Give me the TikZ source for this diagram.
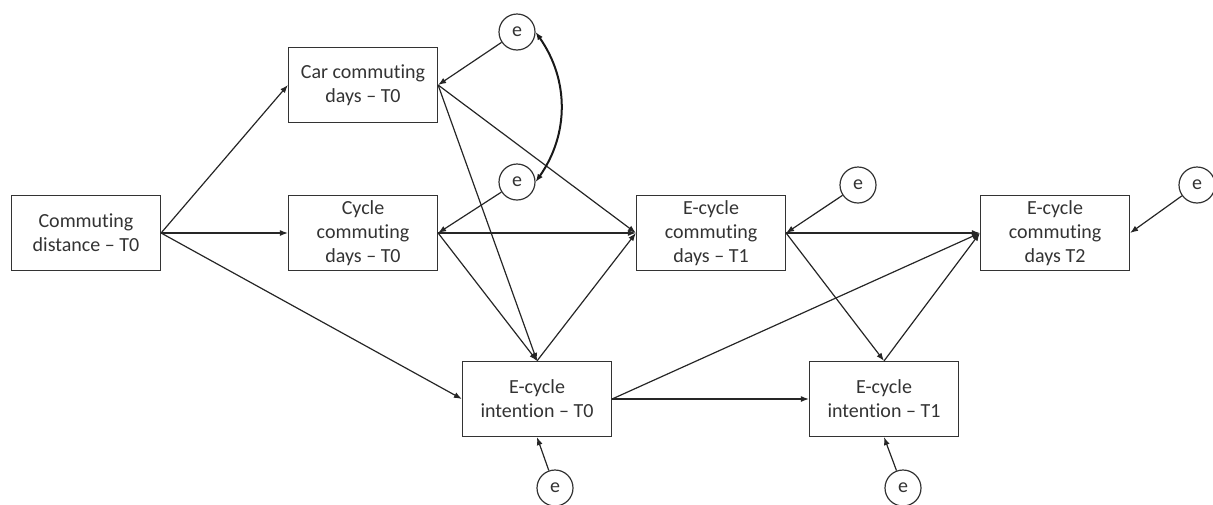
\documentclass[tikz,border=0pt]{standalone}
\usepackage{fontspec}
\setmainfont[Ligatures=NoCommon]{Carlito}
\usepackage{tikz}
\usetikzlibrary{arrows.meta}

\tikzset{
  var/.style={draw=black!80, line width=1.2pt, rectangle, align=center,
    minimum width=149pt, minimum height=75pt, inner sep=1pt,
    font=\fontsize{20}{24}\selectfont, text=black!80},
  err/.style={draw=black!80, line width=1.2pt, circle, minimum size=36pt,
    inner sep=0pt, font=\fontsize{20}{24}\selectfont, text=black!80},
  path/.style={draw=black!85, line width=1.2pt, -{Latex[length=8pt,width=6pt]}},
}

\begin{document}
\begin{tikzpicture}[x=1pt, y=-1pt]
        \useasboundingbox (0, 0) rectangle (1213, 504);

        % observed variables
        \node[var] (dist) at (86, 233) {Commuting\\distance -- T0};
        \node[var] (car) at (363, 85) {Car commuting\\days -- T0};
        \node[var] (cyc) at (363, 233) {Cycle\\commuting\\days -- T0};
        \node[var] (ecT1) at (711, 233) {E-cycle\\commuting\\days -- T1};
        \node[var] (ecT2) at (1055, 233) {E-cycle\\commuting\\days T2};
        \node[var] (intT0) at (537, 399) {E-cycle\\intention -- T0};
        \node[var] (intT1) at (884, 399) {E-cycle\\intention -- T1};

        % error terms
        \node[err] (eCar) at (517, 32) {e};
        \node[err] (eCyc) at (517, 182) {e};
        \node[err] (eT1) at (858, 185) {e};
        \node[err] (eT2) at (1197, 185) {e};
        \node[err] (eIntA) at (555, 488) {e};
        \node[err] (eIntB) at (903, 488) {e};

        % paths
        \draw[path] (dist.east) -- (car.west);
        \draw[path] (dist.east) -- (cyc.west);
        \draw[path] (dist.east) -- (intT0.west);

        \draw[path] (car.east) -- (ecT1.west);
        \draw[path] (car.east) -- (intT0.north);
        \draw[path] (cyc.east) -- (ecT1.west);
        \draw[path] (cyc.east) -- (intT0.north);
        \draw[path] (intT0.north) -- (ecT1.west);

        \draw[path] (ecT1.east) -- (ecT2.west);
        \draw[path] (ecT1.east) -- (intT1.north);
        \draw[path] (intT0.east) -- (ecT2.west);
        \draw[path] (intT0.east) -- (intT1.west);
        \draw[path] (intT1.north) -- (ecT2.west);

        % residuals
        \draw[path] (eCar) -- (car.east);
        \draw[path] (eCyc) -- (cyc.east);
        \draw[path] (eT1) -- (ecT1.east);
        \draw[path] (eT2) -- (ecT2.east);
        \draw[path] (eIntA) -- (intT0.south);
        \draw[path] (eIntB) -- (intT1.south);

        \draw[black!90, line width=2pt, {Latex[length=8pt,width=6pt]}-{Latex[length=8pt,width=6pt]}]
            (eCar.east) to[bend left=35] (eCyc.east);
\end{tikzpicture}
\end{document}
